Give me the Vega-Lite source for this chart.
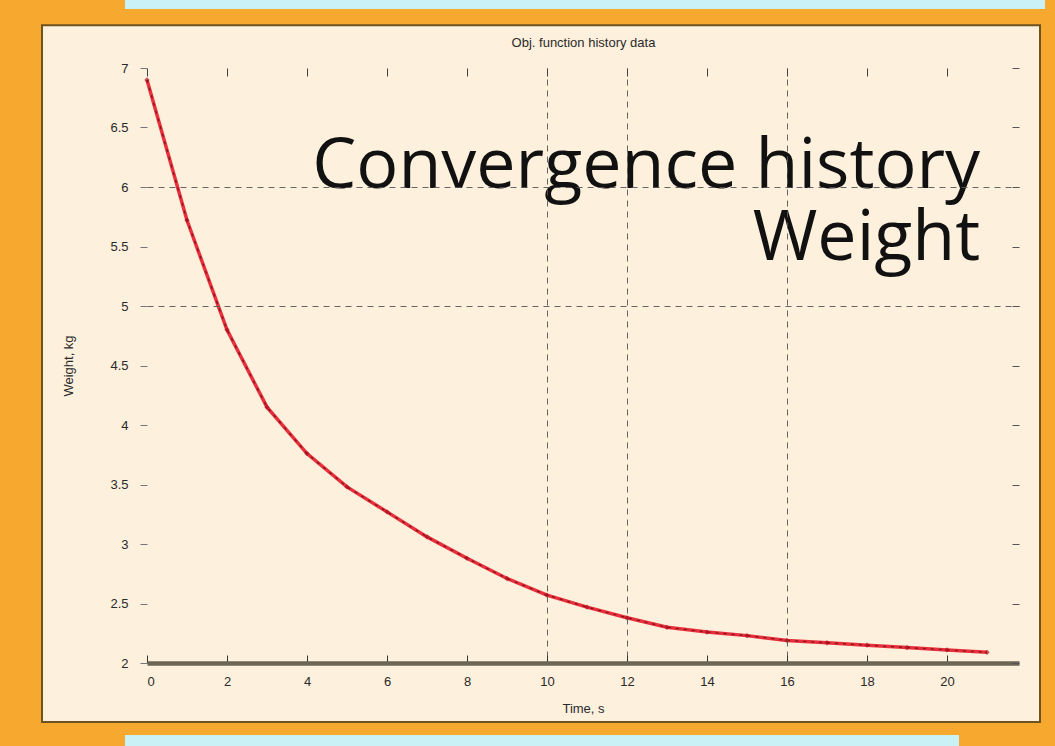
{
  "$schema": "https://vega.github.io/schema/vega-lite/v6.json",
  "autosize": "none",
  "width": 872,
  "height": 595,
  "padding": {"left": 147, "top": 68, "right": 36, "bottom": 83},
  "background": "#f6a92e",
  "config": {
    "view": {"stroke": null},
    "axis": {"labelFont": "Liberation Sans", "titleFont": "Liberation Sans", "labelColor": "#2a2a2a", "titleColor": "#2a2a2a", "labelFontSize": 13, "titleFontSize": 13, "titleFontWeight": "normal"}
  },
  "datasets": {
    "history": [
      {"iter": 0, "weight": 6.90},
      {"iter": 1, "weight": 5.72},
      {"iter": 2, "weight": 4.80},
      {"iter": 3, "weight": 4.15},
      {"iter": 4, "weight": 3.76},
      {"iter": 5, "weight": 3.48},
      {"iter": 6, "weight": 3.27},
      {"iter": 7, "weight": 3.06},
      {"iter": 8, "weight": 2.88},
      {"iter": 9, "weight": 2.71},
      {"iter": 10, "weight": 2.57},
      {"iter": 11, "weight": 2.47},
      {"iter": 12, "weight": 2.38},
      {"iter": 13, "weight": 2.30},
      {"iter": 14, "weight": 2.26},
      {"iter": 15, "weight": 2.23},
      {"iter": 16, "weight": 2.19},
      {"iter": 17, "weight": 2.17},
      {"iter": 18, "weight": 2.15},
      {"iter": 19, "weight": 2.13},
      {"iter": 20, "weight": 2.11},
      {"iter": 21, "weight": 2.09}
    ],
    "one": [{"label": "Convergence history"}]
  },
  "resolve": {"axis": {"x": "independent", "y": "independent"}},
  "layer": [
    {
      "data": {"name": "one"},
      "mark": {"type": "rect", "fill": "#c9f1f6", "clip": false},
      "encoding": {
        "x": {"datum": -0.55, "type": "quantitative", "scale": {"domain": [0, 21.8], "nice": false, "zero": false}, "axis": null},
        "x2": {"datum": 22.45},
        "y": {"datum": 7.575, "type": "quantitative", "scale": {"domain": [2, 7], "nice": false, "zero": false}, "axis": null},
        "y2": {"datum": 7.495}
      }
    },
    {
      "data": {"name": "one"},
      "mark": {"type": "rect", "fill": "#c9f1f6", "clip": false},
      "encoding": {
        "x": {"datum": -0.55, "type": "quantitative", "axis": null},
        "x2": {"datum": 20.3},
        "y": {"datum": 1.395, "type": "quantitative", "axis": null},
        "y2": {"datum": 1.29}
      }
    },
    {
      "data": {"name": "one"},
      "mark": {"type": "rect", "fill": "#fdf0dc", "stroke": "#6e5220", "strokeWidth": 2, "clip": false},
      "encoding": {
        "x": {"datum": -2.625, "type": "quantitative", "axis": null},
        "x2": {"datum": 22.325},
        "y": {"datum": 7.36, "type": "quantitative", "axis": null},
        "y2": {"datum": 1.505}
      }
    },
    {
      "data": {"name": "history"},
      "mark": {"type": "line", "color": "#e8303c", "strokeWidth": 3.5},
      "encoding": {
        "x": {"field": "iter", "type": "quantitative", "title": "Time, s",
          "axis": {"zindex": 1, "values": [0,2,4,6,8,10,12,14,16,18,20], "format": "d", "domainColor": "#6b6454", "domainWidth": 4.5, "tickColor": "#333333", "tickSize": -8, "labelPadding": 20, "titlePadding": 14,
            "grid": true, "gridColor": "#555555", "gridDash": [6, 5], "gridWidth": 1,
            "gridOpacity": {"condition": {"test": "datum.value == 10 || datum.value == 12 || datum.value == 16", "value": 0.9}, "value": 0}}},
        "y": {"field": "weight", "type": "quantitative", "title": "Weight, kg",
          "axis": {"zindex": 1, "values": [2,2.5,3,3.5,4,4.5,5,5.5,6,6.5,7], "format": "~g", "domain": false, "tickColor": "#777777", "tickSize": 7, "labelPadding": 12, "titlePadding": 34,
            "grid": true, "gridColor": "#555555", "gridDash": [6, 5], "gridWidth": 1.2,
            "gridOpacity": {"condition": {"test": "datum.value == 5 || datum.value == 6", "value": 0.9}, "value": 0}}}
      }
    },
    {
      "data": {"name": "history"},
      "mark": {"type": "line", "color": "#8a1420", "strokeWidth": 1.4, "strokeDash": [3, 5]},
      "encoding": {
        "x": {"field": "iter", "type": "quantitative", "title": "Obj. function history data", "axis": {"zindex": 1, "orient": "top", "labels": false, "domain": false, "tickSize": -8, "tickColor": "#444444", "values": [0,2,4,6,8,10,12,14,16,18,20], "grid": false, "titlePadding": 18}},
        "y": {"field": "weight", "type": "quantitative", "axis": {"zindex": 1, "orient": "right", "labels": false, "title": null, "domain": false, "tickSize": -7, "tickColor": "#555555", "values": [2,2.5,3,3.5,4,4.5,5,5.5,6,6.5,7], "grid": false}}
      }
    },
    {
      "data": {"name": "history"},
      "mark": {"type": "point", "shape": "diamond", "filled": true, "color": "#a8101c", "size": 28},
      "encoding": {
        "x": {"field": "iter", "type": "quantitative", "axis": null},
        "y": {"field": "weight", "type": "quantitative", "axis": null}
      }
    },
    {
      "data": {"name": "one"},
      "mark": {"type": "text", "text": ["Convergence history", "Weight"], "font": "Open Sans", "fontSize": 70, "fontWeight": 500, "lineHeight": 72, "align": "right", "baseline": "alphabetic", "color": "#111111", "clip": false},
      "encoding": {
        "x": {"datum": 20.83, "type": "quantitative", "axis": null},
        "y": {"datum": 5.99, "type": "quantitative", "axis": null}
      }
    }
  ]
}
